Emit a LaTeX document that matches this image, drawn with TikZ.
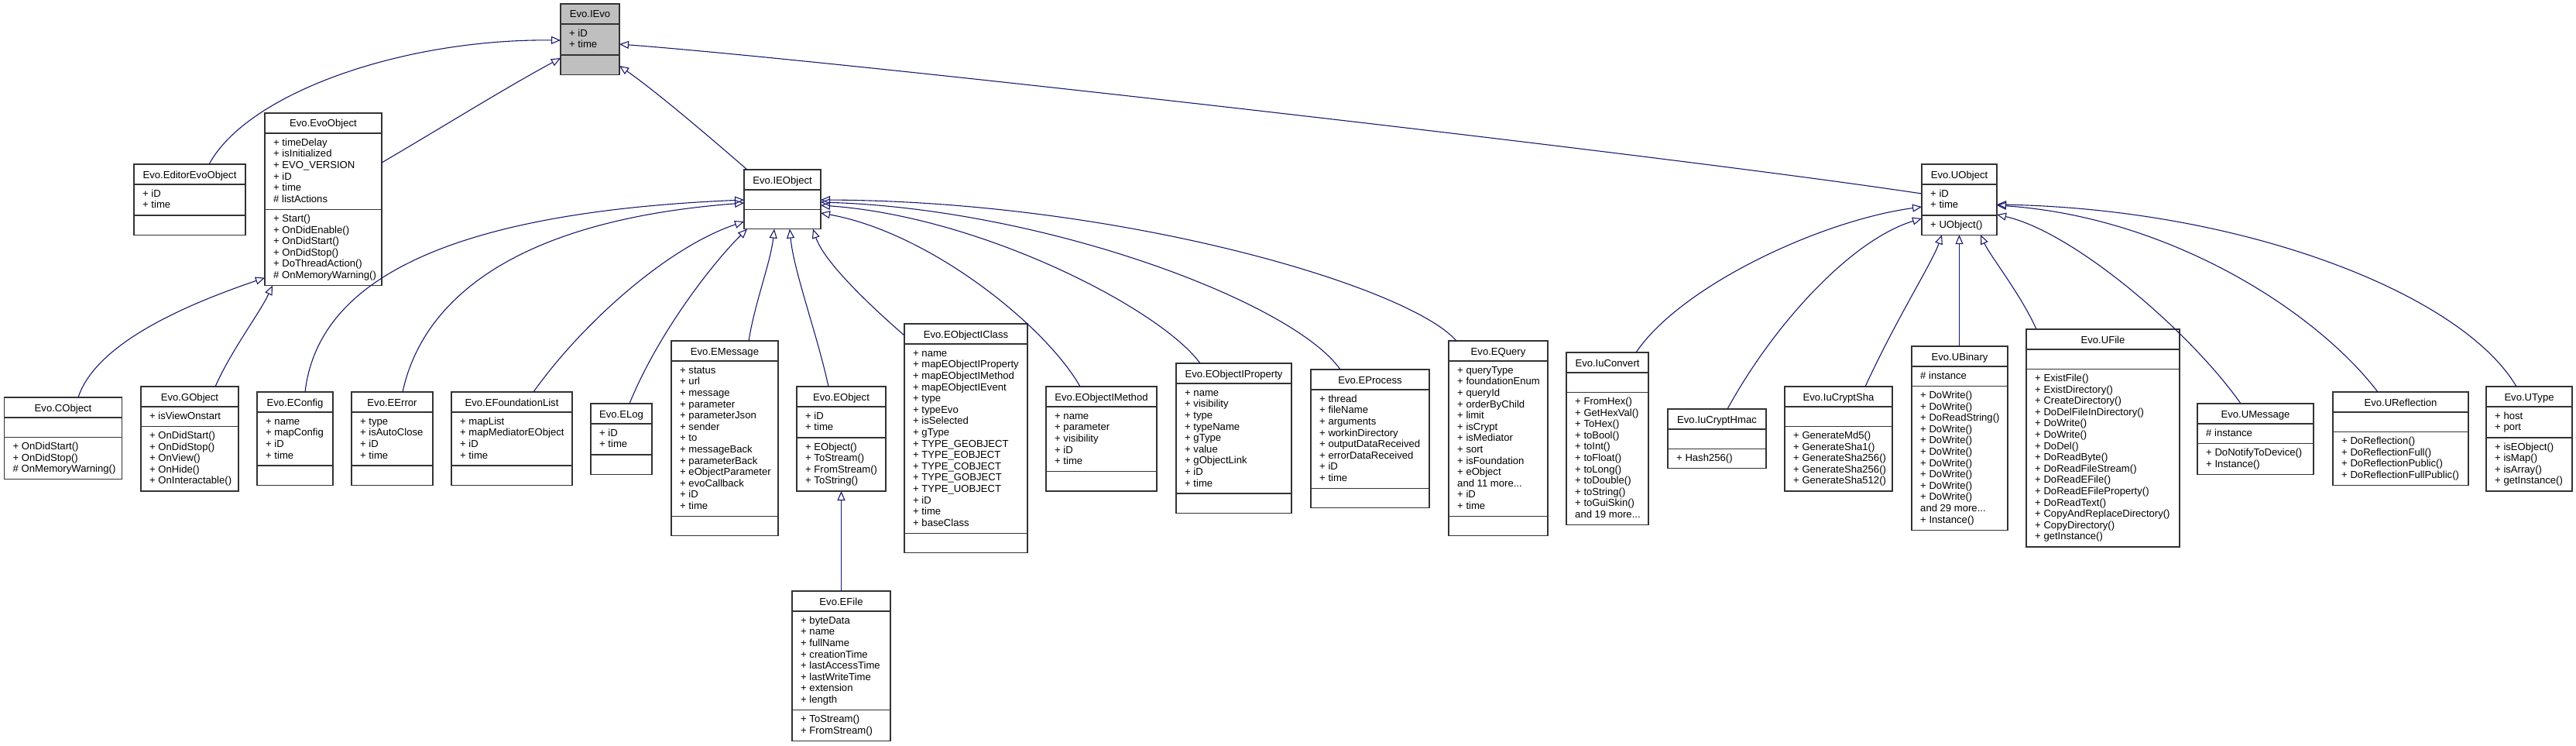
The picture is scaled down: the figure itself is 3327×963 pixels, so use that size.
\documentclass[tikz,border=0pt]{standalone}
\usepackage{fontspec}
\setmainfont{Liberation Sans}
\usetikzlibrary{arrows.meta}
\definecolor{edgeblue}{RGB}{25,25,112}
\definecolor{boxgray}{RGB}{191,191,191}
\tikzset{
  clsbox/.style={draw=black!80, line width=1.3pt, inner sep=0pt, outer sep=0pt},
  clssep/.style={draw=black!80, line width=1.3pt},
  clstitle/.style={inner sep=0pt, anchor=base, font=\fontsize{13.1}{14.6}\selectfont},
  clslines/.style={inner sep=0pt, anchor=north west, align=left, font=\fontsize{13.1}{14.6}\selectfont},
  inh/.style={draw=edgeblue, line width=1.1pt, -{Triangle[open, length=12pt, width=10pt, line width=1.1pt]}},
}
\def\clsfill{white}
\newcommand\umlclass[9]{%
  \pgfmathsetmacro\clsha{max(1,#6)*14.6+10.7}%
  \pgfmathsetmacro\clshm{max(1,#8)*14.6+10.7}%
  \pgfmathsetmacro\clshh{26+\clsha+\clshm}%
  \node[clsbox, fill=\clsfill, minimum width=#4pt, minimum height=\clshh pt, anchor=north west] (#1) at (#2,-#3) {};
  \draw[clssep] (#2,-#3-26) -- ++(#4,0);
  \draw[clssep] (#2,-#3-26-\clsha) -- ++(#4,0);
  \node[clstitle] at (#2+#4/2,-#3-18) {#5};
  \node[clslines] at (#2+11,-#3-26-5.8) {\strut #7};
  \node[clslines] at (#2+11,-#3-26-\clsha-5.8) {\strut #9};
}
\begin{document}
\begin{tikzpicture}[x=1pt,y=1pt]
\fill[white] (0,0) rectangle (3327,-963);
\useasboundingbox (0,0) rectangle (3327,-963);

\def\clsfill{boxgray}
\umlclass{IEvo}{724}{5}{76}{Evo.IEvo}{2}{+ iD\\+ time}{0}{}
\def\clsfill{white}
\umlclass{EditorEvoObject}{173}{212}{144}{Evo.EditorEvoObject}{2}{+ iD\\+ time}{0}{}
\umlclass{EvoObject}{342}{146}{151}{Evo.EvoObject}{6}{+ timeDelay\\+ isInitialized\\+ EVO\_VERSION\\+ iD\\+ time\\\# listActions}{6}{+ Start()\\+ OnDidEnable()\\+ OnDidStart()\\+ OnDidStop()\\+ DoThreadAction()\\\# OnMemoryWarning()}
\umlclass{IEObject}{961}{219}{99}{Evo.IEObject}{0}{}{0}{}
\umlclass{UObject}{2482}{212}{97}{Evo.UObject}{2}{+ iD\\+ time}{1}{+ UObject()}

\umlclass{CObject}{5.5}{513}{152}{Evo.CObject}{0}{}{3}{+ OnDidStart()\\+ OnDidStop()\\\# OnMemoryWarning()}
\umlclass{GObject}{182}{499}{126}{Evo.GObject}{1}{+ isViewOnstart}{5}{+ OnDidStart()\\+ OnDidStop()\\+ OnView()\\+ OnHide()\\+ OnInteractable()}
\umlclass{EConfig}{332}{506}{98}{Evo.EConfig}{4}{+ name\\+ mapConfig\\+ iD\\+ time}{0}{}
\umlclass{EError}{454}{506}{105}{Evo.EError}{4}{+ type\\+ isAutoClose\\+ iD\\+ time}{0}{}
\umlclass{EFoundationList}{583}{506}{156}{Evo.EFoundationList}{4}{+ mapList\\+ mapMediatorEObject\\+ iD\\+ time}{0}{}
\umlclass{ELog}{763}{521}{79}{Evo.ELog}{2}{+ iD\\+ time}{0}{}
\umlclass{EMessage}{867}{440}{138}{Evo.EMessage}{13}{+ status\\+ url\\+ message\\+ parameter\\+ parameterJson\\+ sender\\+ to\\+ messageBack\\+ parameterBack\\+ eObjectParameter\\+ evoCallback\\+ iD\\+ time}{0}{}
\umlclass{EObject}{1029}{499}{115}{Evo.EObject}{2}{+ iD\\+ time}{4}{+ EObject()\\+ ToStream()\\+ FromStream()\\+ ToString()}
\umlclass{EObjectIClass}{1168}{418}{159}{Evo.EObjectIClass}{16}{+ name\\+ mapEObjectIProperty\\+ mapEObjectIMethod\\+ mapEObjectIEvent\\+ type\\+ typeEvo\\+ isSelected\\+ gType\\+ TYPE\_GEOBJECT\\+ TYPE\_EOBJECT\\+ TYPE\_COBJECT\\+ TYPE\_GOBJECT\\+ TYPE\_UOBJECT\\+ iD\\+ time\\+ baseClass}{0}{}
\umlclass{EFile}{1023}{763}{127}{Evo.EFile}{8}{+ byteData\\+ name\\+ fullName\\+ creationTime\\+ lastAccessTime\\+ lastWriteTime\\+ extension\\+ length}{2}{+ ToStream()\\+ FromStream()}
\umlclass{EObjectIMethod}{1351}{499}{143}{Evo.EObjectIMethod}{5}{+ name\\+ parameter\\+ visibility\\+ iD\\+ time}{0}{}
\umlclass{EObjectIProperty}{1519}{469}{149}{Evo.EObjectIProperty}{9}{+ name\\+ visibility\\+ type\\+ typeName\\+ gType\\+ value\\+ gObjectLink\\+ iD\\+ time}{0}{}
\umlclass{EProcess}{1693}{477}{153}{Evo.EProcess}{8}{+ thread\\+ fileName\\+ arguments\\+ workinDirectory\\+ outputDataReceived\\+ errorDataReceived\\+ iD\\+ time}{0}{}
\umlclass{EQuery}{1871}{440}{128}{Evo.EQuery}{13}{+ queryType\\+ foundationEnum\\+ queryId\\+ orderByChild\\+ limit\\+ isCrypt\\+ isMediator\\+ sort\\+ isFoundation\\+ eObject\\and 11 more...\\+ iD\\+ time}{0}{}
\umlclass{IuConvert}{2023}{455}{106}{Evo.IuConvert}{0}{}{11}{+ FromHex()\\+ GetHexVal()\\+ ToHex()\\+ toBool()\\+ toInt()\\+ toFloat()\\+ toLong()\\+ toDouble()\\+ toString()\\+ toGuiSkin()\\and 19 more...}
\umlclass{IuCryptHmac}{2154}{528}{127}{Evo.IuCryptHmac}{0}{}{1}{+ Hash256()}
\umlclass{IuCryptSha}{2305}{499}{139}{Evo.IuCryptSha}{0}{}{5}{+ GenerateMd5()\\+ GenerateSha1()\\+ GenerateSha256()\\+ GenerateSha256()\\+ GenerateSha512()}
\umlclass{UBinary}{2469}{447}{124}{Evo.UBinary}{1}{\# instance}{12}{+ DoWrite()\\+ DoWrite()\\+ DoReadString()\\+ DoWrite()\\+ DoWrite()\\+ DoWrite()\\+ DoWrite()\\+ DoWrite()\\+ DoWrite()\\+ DoWrite()\\and 29 more...\\+ Instance()}
\umlclass{UFile}{2617}{425}{198}{Evo.UFile}{0}{}{15}{+ ExistFile()\\+ ExistDirectory()\\+ CreateDirectory()\\+ DoDelFileInDirectory()\\+ DoWrite()\\+ DoWrite()\\+ DoDel()\\+ DoReadByte()\\+ DoReadFileStream()\\+ DoReadEFile()\\+ DoReadEFileProperty()\\+ DoReadText()\\+ CopyAndReplaceDirectory()\\+ CopyDirectory()\\+ getInstance()}
\umlclass{UMessage}{2838}{521}{150}{Evo.UMessage}{1}{\# instance}{2}{+ DoNotifyToDevice()\\+ Instance()}
\umlclass{UReflection}{3013}{506}{175}{Evo.UReflection}{0}{}{4}{+ DoReflection()\\+ DoReflectionFull()\\+ DoReflectionPublic()\\+ DoReflectionFullPublic()}
\umlclass{UType}{3211}{499}{111}{Evo.UType}{2}{+ host\\+ port}{4}{+ isEObject()\\+ isMap()\\+ isArray()\\+ getInstance()}

% edges to IEvo
\draw[inh] ([xshift=97pt]EditorEvoObject.north west) .. controls (320,-120) and (520,-50) .. ([yshift=-47pt]IEvo.north west);
\draw[inh] ([yshift=-64pt]EvoObject.north east) .. controls (570,-165) and (650,-115) .. ([yshift=-70pt]IEvo.north west);
\draw[inh] ([xshift=4pt]IEObject.north west) .. controls (920,-180) and (850,-120) .. ([yshift=-80pt]IEvo.north east);
\draw[inh] ([yshift=-38pt]UObject.north west) .. controls (2150,-200) and (1100,-80) .. ([yshift=-52pt]IEvo.north east);
% edges to EvoObject
\draw[inh] ([xshift=95.5pt]CObject.north west) .. controls (125,-440) and (250,-390) .. ([yshift=10pt]EvoObject.south west);
\draw[inh] ([xshift=96pt]GObject.north west) .. controls (300,-450) and (335,-405) .. ([xshift=10pt]EvoObject.south west);
% edges to IEObject
\draw[inh] ([xshift=62pt]EConfig.north west) .. controls (410,-370) and (560,-275) .. ([yshift=-39pt]IEObject.north west);
\draw[inh] ([xshift=66pt]EError.north west) .. controls (545,-390) and (660,-285) .. ([yshift=-43pt]IEObject.north west);
\draw[inh] ([xshift=106pt]EFoundationList.north west) .. controls (750,-420) and (860,-320) .. ([yshift=-67pt]IEObject.north west);
\draw[inh] ([xshift=50pt]ELog.north west) .. controls (850,-430) and (920,-340) .. ([xshift=4pt]IEObject.south west);
\draw[inh] ([xshift=100pt]EMessage.north west) .. controls (975,-390) and (995,-340) .. ([xshift=39pt]IEObject.south west);
\draw[inh] ([xshift=41pt]EObject.north west) .. controls (1055,-430) and (1025,-350) .. ([xshift=59pt]IEObject.south west);
\draw[inh] ([yshift=-15pt]EObjectIClass.north west) .. controls (1130,-400) and (1065,-340) .. ([xshift=89pt]IEObject.south west);
\draw[inh] ([xshift=44pt]EObjectIMethod.north west) .. controls (1350,-420) and (1200,-300) .. ([yshift=-56pt]IEObject.north east);
\draw[inh] ([xshift=31pt]EObjectIProperty.north west) .. controls (1500,-400) and (1270,-280) .. ([yshift=-46pt]IEObject.north east);
\draw[inh] ([xshift=38pt]EProcess.north west) .. controls (1670,-390) and (1350,-270) .. ([yshift=-42pt]IEObject.north east);
\draw[inh] ([xshift=10pt]EQuery.north west) .. controls (1820,-370) and (1450,-260) .. ([yshift=-39pt]IEObject.north east);
% EFile to EObject
\draw[inh] ([xshift=63.5pt]EFile.north west) -- ([xshift=57.5pt]EObject.south west);
% edges to UObject
\draw[inh] ([xshift=90pt]IuConvert.north west) .. controls (2170,-370) and (2350,-285) .. ([yshift=-55pt]UObject.north west);
\draw[inh] ([xshift=77pt]IuCryptHmac.north west) .. controls (2290,-420) and (2390,-310) .. ([yshift=-70pt]UObject.north west);
\draw[inh] ([xshift=104pt]IuCryptSha.north west) .. controls (2450,-410) and (2495,-340) .. ([xshift=26pt]UObject.south west);
\draw[inh] ([xshift=61.5pt]UBinary.north west) -- ([xshift=48.5pt]UObject.south west);
\draw[inh] ([xshift=13pt]UFile.north west) .. controls (2610,-380) and (2570,-330) .. ([xshift=76pt]UObject.south west);
\draw[inh] ([xshift=56pt]UMessage.north west) .. controls (2830,-430) and (2680,-300) .. ([yshift=-65pt]UObject.north east);
\draw[inh] ([xshift=58pt]UReflection.north west) .. controls (2990,-400) and (2800,-280) .. ([yshift=-53pt]UObject.north east);
\draw[inh] ([xshift=39pt]UType.north west) .. controls (3180,-380) and (2900,-270) .. ([yshift=-52pt]UObject.north east);
\end{tikzpicture}
\end{document}
